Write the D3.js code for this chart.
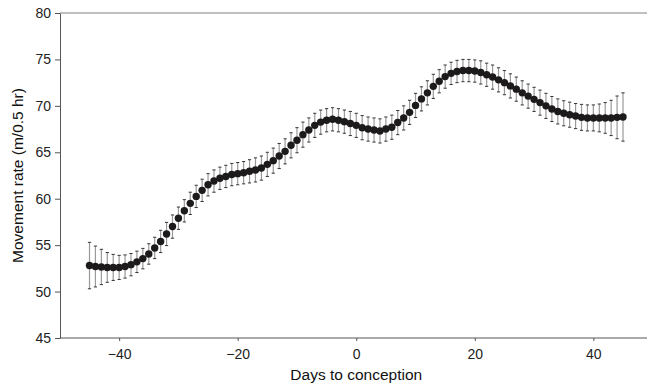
<!DOCTYPE html>
<html>
<head>
<meta charset="utf-8">
<script src="https://cdn.jsdelivr.net/npm/d3@7"></script>
<style>
  body { margin: 0; background: #fff; }
  svg { display: block; font-family: "Liberation Sans", Arial, sans-serif; }
</style>
</head>
<body>
<svg id="svg" width="647" height="385"></svg>
<script>
// days to conception, -45 .. 45
const days = d3.range(-45, 46)

const means = [
  52.8, 52.7, 52.65, 52.6, 52.6, 52.6, 52.7, 52.9, 53.2, 53.55,
  54.05, 54.7, 55.4, 56.2, 57.0, 57.9, 58.7, 59.5, 60.25, 60.9,
  61.5, 61.9, 62.2, 62.4, 62.6, 62.7, 62.8, 62.95, 63.1, 63.3,
  63.7, 64.1, 64.6, 65.1, 65.75, 66.3, 66.9, 67.4, 67.9, 68.25,
  68.45, 68.55, 68.45, 68.3, 68.1, 67.9, 67.65, 67.5, 67.4, 67.3,
  67.5, 67.7, 68.2, 68.7, 69.3, 70.05, 70.75, 71.4, 72.1, 72.65,
  73.15, 73.5, 73.7, 73.8, 73.8, 73.75, 73.6, 73.35, 73.1, 72.8,
  72.5, 72.15, 71.8, 71.4, 71.05, 70.7, 70.35, 70.0, 69.66, 69.4,
  69.2, 69.05, 68.9, 68.76, 68.7, 68.7, 68.7, 68.7, 68.7, 68.76,
  68.8
]

const errors = [
  2.5, 2.2, 1.9, 1.6, 1.4, 1.3, 1.25, 1.2, 1.15, 1.1,
  1.1, 1.15, 1.2, 1.25, 1.25, 1.2, 1.2, 1.2, 1.2, 1.2,
  1.2, 1.2, 1.2, 1.2, 1.2, 1.2, 1.2, 1.25, 1.3, 1.3,
  1.3, 1.35, 1.35, 1.35, 1.35, 1.35, 1.35, 1.3, 1.3, 1.3,
  1.25, 1.25, 1.25, 1.25, 1.3, 1.3, 1.3, 1.3, 1.3, 1.3,
  1.3, 1.3, 1.3, 1.3, 1.3, 1.3, 1.3, 1.3, 1.3, 1.25,
  1.25, 1.2, 1.2, 1.2, 1.2, 1.2, 1.25, 1.25, 1.3, 1.3,
  1.3, 1.3, 1.3, 1.3, 1.3, 1.3, 1.35, 1.35, 1.35, 1.35,
  1.35, 1.35, 1.35, 1.4, 1.4, 1.4, 1.5, 1.65, 1.9, 2.3,
  2.6
]

const xTicks = [-40, -20, 0, 20, 40]
const yTicks = [45, 50, 55, 60, 65, 70, 75, 80]

const margin = { top: 13, right: 0, bottom: 47, left: 60 }
const width = 647, height = 385

const $svg = d3.select('#svg')

const scaleX = d3.scaleLinear()
  .domain([-45, 45])
  .range([89.5, 623])
const scaleY = d3.scaleLinear()
  .domain([45, 80])
  .range([height - margin.bottom, margin.top])

const data = days.map((d, i) => ({ day: d, mean: means[i], err: errors[i] }))

// top frame line
$svg.append('line')
  .attr('x1', margin.left).attr('x2', width)
  .attr('y1', scaleY(80)).attr('y2', scaleY(80))
  .attr('stroke', '#aaa').attr('stroke-width', 1.5)

// axes
const $yAxis = $svg.append('g')
  .attr('transform', `translate(${margin.left},0)`)
  .call(d3.axisLeft(scaleY).tickValues(yTicks).tickSize(5).tickPadding(4).tickSizeOuter(0))
const $xAxis = $svg.append('g')
  .attr('transform', `translate(0,${scaleY(45)})`)
  .call(d3.axisBottom(scaleX).tickValues(xTicks).tickSize(3).tickPadding(8).tickSizeOuter(0)
    .tickFormat(d => d < 0 ? '\u2212' + Math.abs(d) : d))

$xAxis.select('.domain').attr('d', `M${margin.left},0H${width}`)
;[$yAxis, $xAxis].forEach($a => {
  $a.select('.domain').attr('stroke', '#555')
  $a.selectAll('.tick line').attr('stroke', '#555')
  $a.selectAll('.tick text')
    .attr('fill', '#222')
    .style('font-size', '14px')
    .style('font-family', '"Liberation Sans", Arial, sans-serif')
})

// axis titles
$svg.append('text')
  .attr('x', scaleX(0)).attr('y', 380)
  .attr('text-anchor', 'middle')
  .attr('fill', '#111')
  .style('font-size', '15.5px')
  .text('Days to conception')
$svg.append('text')
  .attr('transform', `translate(23,${(scaleY(45) + scaleY(80)) / 2}) rotate(-90)`)
  .attr('text-anchor', 'middle')
  .attr('fill', '#111')
  .style('font-size', '15.5px')
  .text('Movement rate (m/0.5 hr)')

// error bars
const $bars = $svg.append('g')
$bars.selectAll('line.bar')
  .data(data).join('line')
  .attr('class', 'bar')
  .attr('x1', d => scaleX(d.day)).attr('x2', d => scaleX(d.day))
  .attr('y1', d => scaleY(d.mean - d.err)).attr('y2', d => scaleY(d.mean + d.err))
  .attr('stroke', '#999').attr('stroke-width', 1.2)
;['top', 'bottom'].forEach(side => {
  $bars.selectAll('line.cap-' + side)
    .data(data).join('line')
    .attr('class', 'cap-' + side)
    .attr('x1', d => scaleX(d.day) - 1.6).attr('x2', d => scaleX(d.day) + 1.6)
    .attr('y1', d => scaleY(side === 'top' ? d.mean + d.err : d.mean - d.err))
    .attr('y2', d => scaleY(side === 'top' ? d.mean + d.err : d.mean - d.err))
    .attr('stroke', '#333').attr('stroke-width', 1)
})

// points
$svg.append('g').selectAll('circle')
  .data(data).join('circle')
  .attr('cx', d => scaleX(d.day))
  .attr('cy', d => scaleY(d.mean))
  .attr('r', 3.7)
  .attr('fill', '#1c1a1b')
</script>
</body>
</html>
